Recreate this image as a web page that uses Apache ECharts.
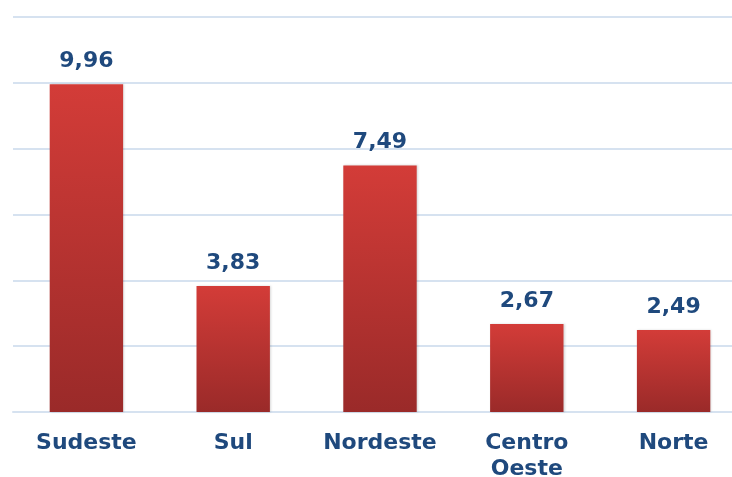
<!DOCTYPE html>
<html>
<head>
<meta charset="utf-8">
<script src="https://cdn.jsdelivr.net/npm/echarts@6/dist/echarts.min.js"></script>
<style>
  html, body { margin: 0; padding: 0; background: #fff; }
  #chart { width: 732px; height: 477px; }
</style>
</head>
<body>
<div id="chart"></div>
<script>
const regioes = ['Sudeste', 'Sul', 'Nordeste', 'Centro\nOeste', 'Norte'];
const valores = [9.96, 3.83, 7.49, 2.67, 2.49];

const chart = echarts.init(document.getElementById('chart'));

const option = {
    animation: false,
    grid: {
        left: 13,
        right: -15,
        top: 17,
        bottom: 65,
        outerBoundsMode: 'none'
    },
    xAxis: {
        type: 'category',
        data: regioes,
        axisTick: { show: false },
        axisLine: {
            show: true,
            lineStyle: { color: '#d6e2f0', width: 2 }
        },
        axisLabel: {
            interval: 0,
            color: '#1f497d',
            fontFamily: 'DejaVu Sans',
            fontWeight: 'bold',
            fontSize: 22,
            lineHeight: 26,
            margin: 18
        }
    },
    yAxis: {
        type: 'value',
        min: 0,
        max: 12,
        interval: 2,
        axisLabel: { show: false },
        axisLine: { show: false },
        axisTick: { show: false },
        splitLine: {
            lineStyle: { color: '#d6e2f0', width: 2 }
        }
    },
    series: [{
        type: 'bar',
        data: valores,
        barWidth: '50%',
        itemStyle: {
            color: new echarts.graphic.LinearGradient(0, 0, 0, 1, [
                { offset: 0, color: '#d33c38' },
                { offset: 1, color: '#9a2a29' }
            ]),
            shadowColor: 'rgba(0,0,0,0.15)',
            shadowBlur: 2,
            shadowOffsetX: 1
        },
        label: {
            show: true,
            position: 'top',
            distance: 12,
            color: '#1f497d',
            fontFamily: 'DejaVu Sans',
            fontWeight: 'bold',
            fontSize: 22,
            formatter: p => p.value.toFixed(2).replace('.', ',')
        }
    }]
};

chart.setOption(option);
</script>
</body>
</html>
